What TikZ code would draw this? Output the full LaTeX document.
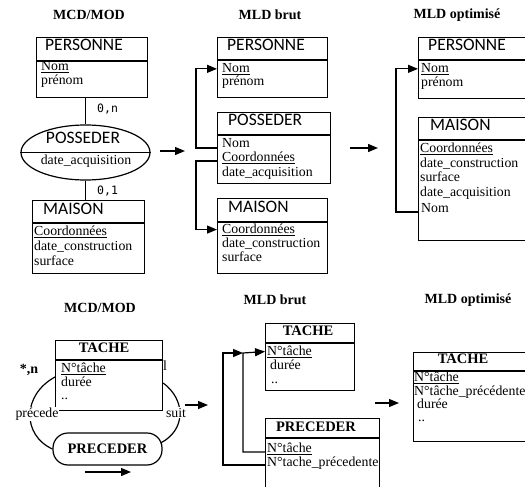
\documentclass[tikz,border=0pt]{standalone}
\usepackage{fontspec}
\setmainfont{Liberation Serif}
\newfontfamily\hdfont{Carlito}
\newfontfamily\cardfont{DejaVu Sans Mono}
\usetikzlibrary{arrows.meta,shapes.geometric}
\tikzset{
 box/.style={draw, line width=1.2pt, anchor=north west, inner sep=0pt},
 sep/.style={line width=1.2pt},
 attr/.style={anchor=mid west, inner sep=0pt, font=\fontsize{13.8}{15}\selectfont},
 hd/.style={anchor=mid west, inner sep=0pt, font=\hdfont\fontsize{17.5}{19}\selectfont},
 bhd/.style={anchor=mid, inner sep=0pt, font=\fontsize{14.5}{16}\selectfont\bfseries},
 ttl/.style={inner sep=0pt, font=\fontsize{14}{16}\selectfont\bfseries},
 card/.style={anchor=mid west, inner sep=0pt, font=\cardfont\fontsize{11.5}{12}\selectfont},
 conn/.style={line width=1.2pt},
 arr/.style={line width=1.2pt, -{Triangle[length=10pt,width=8pt]}},
 lbl/.style={anchor=mid, fill=white, inner sep=1pt, font=\fontsize{13.8}{15}\selectfont},
}
\begin{document}
\begin{tikzpicture}[x=1pt,y=-1pt]
\useasboundingbox (0,0) rectangle (525,487);
\clip (0,0) rectangle (525,487);
% ---------- Group 1 : MCD/MOD (top) ----------
\node[ttl] (t1) at (89,15) {MCD/MOD};
\node[box, minimum width=111pt, minimum height=60pt] (pers1) at (36,37) {};
\draw[sep] (36,61) -- (147,61);
\node[hd] (pers1h) at (45,48) {PERSONNE};
\node[attr] (pers1a) at (41,68) {\underline{Nom}};
\node[attr] (pers1b) at (41,82) {prénom};
\node[draw, ellipse, line width=1.2pt, minimum width=129pt, minimum height=55pt, inner sep=0pt] (poss1) at (85.5,152.5) {};
\draw[sep] (poss1.west) -- (poss1.east);
\node[hd, anchor=mid] (poss1h) at (83,141) {POSSEDER};
\node[attr, anchor=mid] (poss1a) at (86,162) {date\_acquisition};
\node[box, minimum width=112pt, minimum height=73pt] (mais1) at (32,200) {};
\draw[sep] (32,223) -- (144,223);
\node[hd] (mais1h) at (43,212) {MAISON};
\node[attr] (mais1a) at (34,233) {\underline{Coordonnées}};
\node[attr] (mais1b) at (34,248) {date\_construction};
\node[attr] (mais1c) at (34,263) {surface};
\draw[conn] (poss1.north |- pers1.south) -- (poss1.north);
\draw[conn] (poss1.south) -- (poss1.south |- mais1.north);
\node[card] (c1) at (97,110) {0,n};
\node[card] (c2) at (97,192) {0,1};
\coordinate (a1s) at (160,151);
\coordinate (a1e) at (185,151);
\draw[arr] (a1s) -- (a1e);
% ---------- Group 2 : MLD brut (top) ----------
\node[ttl] (t2) at (270,15) {MLD brut};
\node[box, minimum width=110pt, minimum height=60pt] (pers2) at (217,37) {};
\draw[sep] (217,60) -- (327,60);
\node[hd] (pers2h) at (227,48) {PERSONNE};
\node[attr] (pers2a) at (222,70) {\underline{Nom}};
\node[attr] (pers2b) at (222,83) {prénom};
\node[box, minimum width=113pt, minimum height=71pt] (poss2) at (217,112) {};
\draw[sep] (217,135) -- (330,135);
\node[hd] (poss2h) at (228,123) {POSSEDER};
\node[attr] (poss2a) at (222,145) {Nom};
\node[attr] (poss2b) at (222,159) {\underline{Coordonnées}};
\node[attr] (poss2c) at (222,174) {date\_acquisition};
\node[box, minimum width=110pt, minimum height=75pt] (mais2) at (217,198) {};
\draw[sep] (217,222) -- (327,222);
\node[hd] (mais2h) at (228,210) {MAISON};
\node[attr] (mais2a) at (222,231) {\underline{Coordonnées}};
\node[attr] (mais2b) at (222,245) {date\_construction};
\node[attr] (mais2c) at (222,259) {surface};
\draw[arr] (poss2.west |- 0,148) -- ++(-21,0) |- (pers2a.west -| pers2.west);
\draw[arr] (poss2.west |- 0,161) -- ++(-21,0) |- (mais2a.west -| mais2.west);
\coordinate (a2s) at (350,148);
\coordinate (a2e) at (378,148);
\draw[arr] (a2s) -- (a2e);
% ---------- Group 3 : MLD optimise (top) ----------
\node[ttl] (t3) at (457,15) {MLD optimisé};
\node[box, minimum width=125pt, minimum height=61pt] (pers3) at (418,37) {};
\draw[sep] (418,60) -- (545,60);
\node[hd] (pers3h) at (428,48) {PERSONNE};
\node[attr] (pers3a) at (421,70) {\underline{Nom}};
\node[attr] (pers3b) at (421,84) {prénom};
\node[box, minimum width=125pt, minimum height=123pt] (mais3) at (418,117) {};
\draw[sep] (418,140) -- (545,140);
\node[hd] (mais3h) at (430,128) {MAISON};
\node[attr] (mais3a) at (420,150) {\underline{Coordonnées}};
\node[attr] (mais3b) at (420,165) {date\_construction};
\node[attr] (mais3c) at (420,179) {surface};
\node[attr] (mais3d) at (420,194) {date\_acquisition};
\node[attr] (mais3e) at (421,210) {Nom};
\draw[arr] (mais3.west |- 0,212) -- ++(-22,0) |- (pers3a.west -| pers3.west);
% ---------- Group 4 : MCD/MOD (bottom) ----------
\node[ttl] (t4) at (100,308) {MCD/MOD};
\node[box, minimum width=107pt, minimum height=70pt] (tache4) at (55,340) {};
\draw[sep] (55,360) -- (162,360);
\node[bhd] (tache4h) at (104,350) {TACHE};
\node[attr] (tache4a) at (61,370) {\underline{N°tâche}};
\node[attr] (tache4b) at (61,384) {durée};
\node[attr] (tache4c) at (61,397) {..};
\node[draw, rounded corners=15pt, line width=1.2pt, minimum width=109pt, minimum height=32pt, inner sep=0pt, font=\fontsize{14.5}{16}\selectfont\bfseries] (prec4) at (107.5,449) {PRECEDER};
\node[inner sep=0pt, font=\fontsize{14}{16}\selectfont\bfseries] (star4) at (29,370) {*,n};
\node[inner sep=0pt, font=\fontsize{14}{16}\selectfont] (one4) at (165,366) {l};
\draw[conn] (tache4.west |- 0,377) .. controls (22,395) and (22,435) .. (prec4.west);
\draw[conn] (tache4.east |- 0,383) .. controls (186,400) and (186,430) .. ([xshift=-2pt,yshift=6pt]prec4.east);
\node[lbl] (lblp4) at (37,415) {précede};
\node[lbl] (lbls4) at (176,415) {suit};
\coordinate (a4s) at (85,472);
\coordinate (a4e) at (131,472);
\draw[arr] (a4s) -- (a4e);
\coordinate (a5s) at (185,405);
\coordinate (a5e) at (208,405);
\draw[arr] (a5s) -- (a5e);
% ---------- Group 5 : MLD brut (bottom) ----------
\node[ttl] (t5) at (275,300) {MLD brut};
\node[box, minimum width=89pt, minimum height=67pt] (tache5) at (265,323) {};
\draw[sep] (265,343) -- (354,343);
\node[bhd] (tache5h) at (308,333) {TACHE};
\node[attr] (tache5a) at (267,353) {\underline{N°tâche}};
\node[attr] (tache5b) at (270,367) {durée};
\node[attr] (tache5c) at (271,381) {..};
\node[box, minimum width=114pt, minimum height=80pt] (prec5) at (265,418) {};
\draw[sep] (265,438) -- (379,438);
\node[bhd] (prec5h) at (316,429) {PRECEDER};
\node[attr] (prec5a) at (267,450) {\underline{N°tâche}};
\node[attr] (prec5b) at (267,464) {N°tache\_précedente};
\coordinate (j5) at (243,353);
\draw[arr] (prec5.west |- 0,452) -- (j5 |- 0,452) -- (j5) -- (tache5a.west -| tache5.west);
\draw[arr] (prec5.west |- 0,465) -- (223,465) -- (223,353) -- (j5);
\coordinate (a6s) at (375,403);
\coordinate (a6e) at (399,403);
\draw[arr] (a6s) -- (a6e);
% ---------- Group 6 : MLD optimise (bottom) ----------
\node[ttl] (t6) at (468,300) {MLD optimisé};
\node[box, minimum width=130pt, minimum height=89pt] (tache6) at (413,352) {};
\draw[sep] (413,371) -- (545,371);
\node[bhd] (tache6h) at (463,361) {TACHE};
\node[attr] (tache6a) at (414,379) {\underline{N°tâche}};
\node[attr] (tache6b) at (414,393) {N°tâche\_précédente};
\node[attr] (tache6c) at (417,406) {durée};
\node[attr] (tache6d) at (418,419) {..};
\end{tikzpicture}
\end{document}
